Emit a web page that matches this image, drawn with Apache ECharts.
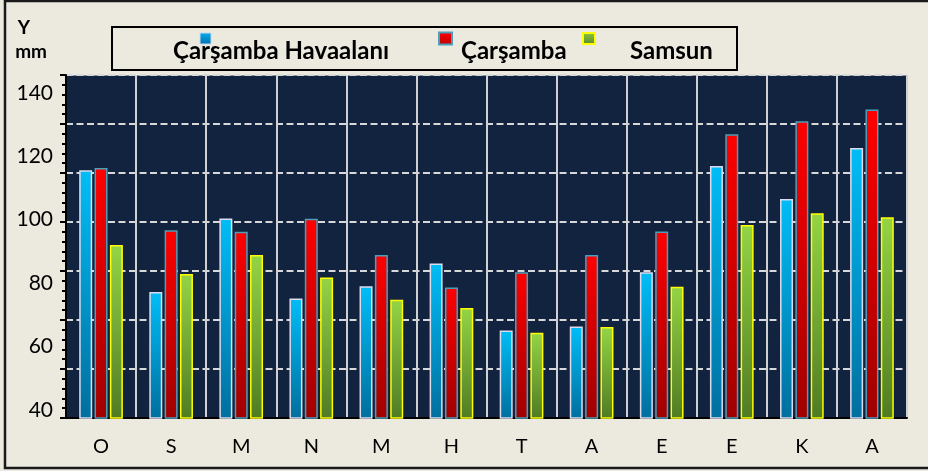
<!DOCTYPE html>
<html>
<head>
<meta charset="utf-8">
<script src="https://cdn.jsdelivr.net/npm/echarts@6/dist/echarts.min.js"></script>
<style>
html, body { margin: 0; padding: 0; background: #fff; }
#grafik { width: 928px; height: 471px; }
</style>
</head>
<body>
<div id="grafik"></div>
<script>
// aylar (ekim -> agustos)
var aylar = ['O', 'S', 'M', 'N', 'M', 'H', 'T', 'A', 'E', 'E', 'K', 'A'];
var seriAdlari = ['Çarşamba Havaalanı', 'Çarşamba', 'Samsun'];
var havaalani = [115.6, 77.2, 100.4, 75.2, 79.0, 86.2, 65.1, 66.3, 83.4, 116.9, 106.5, 122.6];
var carsamba = [116.3, 96.7, 96.2, 100.3, 88.9, 78.6, 83.4, 88.9, 96.3, 126.9, 131.0, 134.7];
var samsun = [92.0, 82.9, 88.9, 81.8, 74.8, 72.2, 64.4, 66.2, 78.9, 98.3, 102.0, 100.8];
var yEtiketleri = [40, 60, 80, 100, 120, 140];

var yazi = 'Lato';
var zemin = '#ece9df';

function renk(ust, alt) {
	return new echarts.graphic.LinearGradient(0, 0, 0, 1, [
		{ offset: 0, color: ust },
		{ offset: 1, color: alt }
	]);
}

var renkler = [
	{ ust: '#00bdf7', alt: '#006f9e', kenar: '#dcdcee' },
	{ ust: '#ff0000', alt: '#a00000', kenar: '#4a9fba' },
	{ ust: '#95d445', alt: '#4f7b23', kenar: '#ffff00' }
];
var veriler = [havaalani, carsamba, samsun];

var seriler = [];
for(var i = 0; i < veriler.length; i++) {
	seriler.push({
		name: seriAdlari[i],
		type: 'bar',
		data: veriler[i],
		xAxisIndex: 0,
		yAxisIndex: 0,
		barWidth: 13,
		barGap: '18%',
		itemStyle: {
			color: renk(renkler[i].ust, renkler[i].alt),
			borderColor: renkler[i].kenar,
			borderWidth: 1.5
		},
		animation: false
	});
}

//lejant (kutu, simgeler, yazilar)
var lejant = [
	{
		type: 'rect',
		shape: { x: 112, y: 27, width: 625, height: 43 },
		style: { fill: zemin, stroke: '#000', lineWidth: 2 }
	},
	{
		type: 'rect',
		shape: { x: 200, y: 33, width: 11, height: 11 },
		style: { fill: renk('#00aef0', '#0070b0'), stroke: '#c8d8ec', lineWidth: 1 }
	},
	{
		type: 'rect',
		shape: { x: 439, y: 32.5, width: 13, height: 12 },
		style: { fill: renk('#ff0000', '#c00000'), stroke: '#4a9fba', lineWidth: 2 }
	},
	{
		type: 'rect',
		shape: { x: 583, y: 33, width: 12, height: 11 },
		style: { fill: renk('#8cc63f', '#5a8a2a'), stroke: '#ffff00', lineWidth: 2 }
	}
];
var lejantX = [173, 461, 630];
for(var k = 0; k < seriAdlari.length; k++) {
	lejant.push({
		type: 'text',
		x: lejantX[k],
		y: 51,
		style: {
			text: seriAdlari[k],
			fontFamily: yazi,
			fontWeight: 'bold',
			fontSize: 24,
			fill: '#000',
			verticalAlign: 'middle'
		}
	});
}
//cerceve
lejant.unshift({
	type: 'rect',
	silent: true,
	shape: { x: 5, y: 1, width: 940, height: 467 },
	style: { fill: 'transparent', stroke: '#1a1a1a', lineWidth: 2.5 }
});

var secenek = {
	backgroundColor: zemin,
	animation: false,
	grid: {
		left: 66,
		right: 21,
		top: 75,
		bottom: 53,
		show: true,
		backgroundColor: '#11233f',
		borderColor: '#f4f4f4',
		borderWidth: 1
	},
	graphic: lejant,
	xAxis: [{
		type: 'category',
		data: aylar,
		boundaryGap: true,
		axisLine: { lineStyle: { color: '#000', width: 2 } },
		axisTick: { interval: 0, length: 6, lineStyle: { color: '#000', width: 2 } },
		axisLabel: { interval: 0, margin: 19, fontSize: 20, color: '#000', fontFamily: yazi },
		splitLine: { show: true, interval: 0, lineStyle: { color: '#cfcfd4', width: 2 } }
	}, {
		type: 'category',
		data: aylar,
		position: 'bottom',
		axisLine: { show: false },
		axisTick: { interval: 0, alignWithLabel: true, length: 4, lineStyle: { color: '#000', width: 2 } },
		axisLabel: { show: false },
		splitLine: { show: false }
	}],
	yAxis: [{
		type: 'value',
		position: 'left',
		offset: 0,
		min: 37.5,
		max: 145.6,
		name: '{y|Y}\n{m|mm}',
		nameLocation: 'end',
		nameGap: 11,
		nameTextStyle: {
			align: 'right',
			padding: [0, 19, 0, 0],
			rich: {
				y: { fontFamily: yazi, fontWeight: 'bold', fontSize: 19, lineHeight: 24, color: '#000', padding: [0, 17, 0, 0] },
				m: { fontFamily: yazi, fontWeight: 'bold', fontSize: 19, lineHeight: 24, color: '#000' }
			}
		},
		axisLine: { show: false },
		axisTick: { show: false },
		splitLine: { show: false },
		axisLabel: {
			customValues: yEtiketleri,
			margin: 13,
			fontSize: 21,
			color: '#000',
			fontFamily: yazi
		}
	}, {
		//kesikli cizgiler ve sol eksen centikleri
		type: 'value',
		position: 'left',
		offset: 0,
		min: 0,
		max: 7,
		interval: 1,
		axisLine: { show: true, lineStyle: { color: '#000', width: 2 } },
		axisTick: { show: true, length: 6, lineStyle: { color: '#000', width: 2 } },
		minorTick: { show: true, splitNumber: 5, length: 4, lineStyle: { color: '#000', width: 2 } },
		axisLabel: { show: false },
		splitLine: { show: true, lineStyle: { color: '#d8d8d8', width: 2, type: [7, 3.5] } }
	}],
	series: seriler
};

var grafik = echarts.init(document.getElementById('grafik'));
grafik.setOption(secenek);
</script>
</body>
</html>
